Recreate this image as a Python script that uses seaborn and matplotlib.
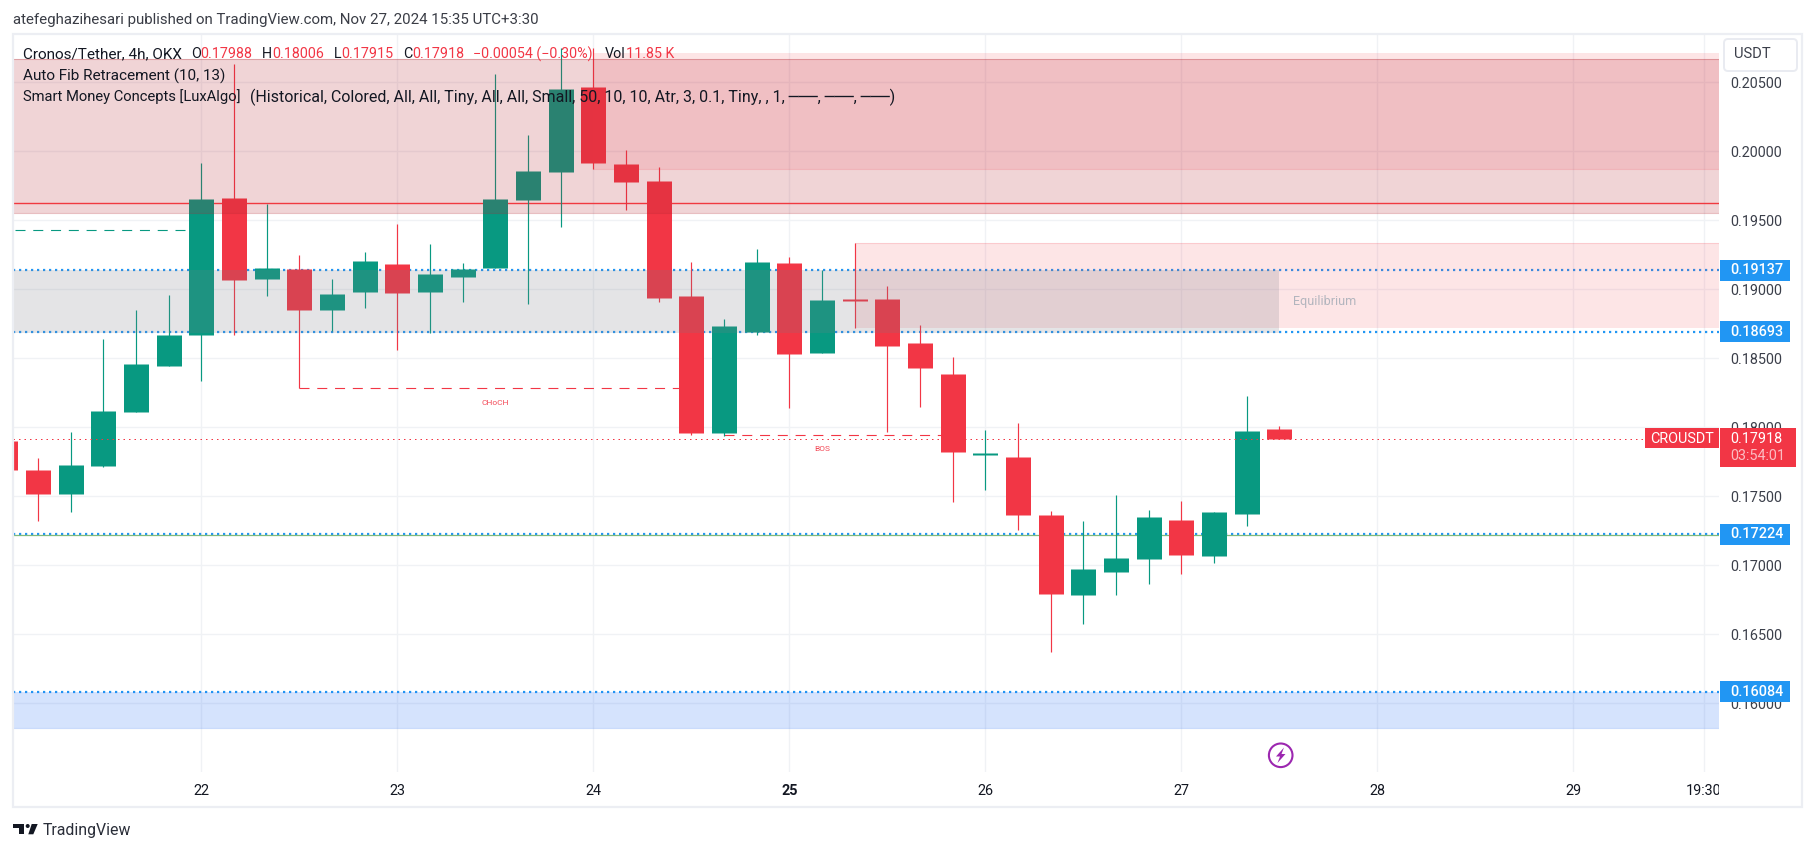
import matplotlib
matplotlib.use('Agg')
import matplotlib.pyplot as plt
import pandas as pd
import seaborn as sns
from matplotlib.patches import Circle, FancyBboxPatch, Polygon, Rectangle
from matplotlib.transforms import Affine2D, Bbox

# 4h candles
bar_open = [.17901, .17691, .17517, .17720, .18111, .18444, .18669, .19662, .19075, .19147,
            .18850, .18980, .19183, .18980, .19089, .19154, .19647, .19850, .20466, .19908,
            .19785, .18951, .17959, .18691, .19190, .18538, .18930, .18930, .18611, .18386,
            .17799, .17785, .17365, .16785, .16951, .17046, .17328, .17067, .17372, .17988]
bar_close = [.17691, .17517, .17727, .18118, .18459, .18669, .19654, .19067, .19154, .18850,
             .18966, .19205, .18973, .19111, .19147, .19654, .19857, .20451, .19915, .19777,
             .18937, .17959, .18734, .19198, .18531, .18922, .18915, .18589, .18430, .17821,
             .17814, .17365, .16792, .16973, .17053, .17350, .17075, .17386, .17973, .17918]
bar_high = [.17901, .17778, .17966, .18640, .18850, .18959, .19915, .20633, .19618, .19248,
            .19075, .19270, .19473, .19328, .19190, .20560, .20118, .20748, .20748, .20009,
            .19886, .19198, .18785, .19292, .19234, .19140, .19335, .19024, .18741, .18509,
            .17980, .18031, .17394, .17321, .17509, .17401, .17466, .17386, .18227, .18006]
bar_low = [.17691, .17321, .17386, .17712, .18111, .18444, .18335, .18669, .18951, .18285,
           .18698, .18864, .18560, .18683, .18908, .19154, .18893, .19451, .19872, .19575,
           .18908, .17944, .17937, .18669, .18140, .18538, .18720, .17966, .18147, .17459,
           .17546, .17256, .16372, .16575, .16785, .16865, .16937, .17017, .17285, .17915]

price_ticks = [.205, .200, .195, .190, .185, .180, .175, .170, .165, .160]
price_labels = ['0.20500', '0.20000', '0.19500', '0.19000', '0.18500',
                '0.18000', '0.17500', '0.17000', '0.16500', '0.16000']
date_ticks = [6, 12, 18, 24, 30, 36, 42, 48, 52]
date_labels = ['22', '23', '24', '25', '26', '27', '28', '29', '19:30']

fib_levels = [.19137, .18693, .17224, .16084]
fib_labels = ['0.19137', '0.18693', '0.17224', '0.16084']
last_price = .17918
sweep_level = .19627
pivot_green = .17217

title_text = 'atefeghazihesari published on TradingView.com, Nov 27, 2024 15:35 UTC+3:30'
smc_name = 'Smart Money Concepts [LuxAlgo]'
smc_args = ('(Historical, Colored, All, All, Tiny, All, All, Small, '
            '50, 10, 10, Atr, 3, 0.1, Tiny, , 1, ───, ───, ───)')

UP = '#089981'
DOWN = '#f23645'
BLUE = '#2196f3'
INK = '#131722'

sns.set_theme(style='whitegrid', rc={'grid.color': '#f0f2f5', 'grid.linewidth': 1.0,
                                     'axes.edgecolor': 'white'})
plt.rcParams['font.family'] = ['Roboto', 'DejaVu Sans']

fig = plt.figure(figsize=(18.14, 8.51), dpi=100)
ax = fig.add_axes([13 / 1814, 1 - 772 / 851, 1706 / 1814, 738 / 851])
px = Affine2D().scale(1, -1).translate(0, 851)  # figure text placed in image pixels

candles = pd.DataFrame({'bar': range(len(bar_open)), 'open': bar_open, 'close': bar_close,
                        'high': bar_high, 'low': bar_low})
candles['side'] = ['up' if c >= o else 'down' for o, c in zip(bar_open, bar_close)]
wicks = candles.melt(id_vars=['bar', 'side'], value_vars=['low', 'high'], value_name='price')
bodies = candles.melt(id_vars=['bar', 'side'], value_vars=['open', 'close'], value_name='price')
palette = {'up': UP, 'down': DOWN}

sns.lineplot(data=wicks, x='bar', y='price', hue='side', units='bar', estimator=None, sort=False,
             palette=palette, legend=False, linewidth=0.85, solid_capstyle='butt', zorder=2, ax=ax)
sns.lineplot(data=bodies, x='bar', y='price', hue='side', units='bar', estimator=None, sort=False,
             palette=palette, legend=False, linewidth=18, solid_capstyle='butt', zorder=2, ax=ax)

x0, x1 = 0.236, 52.46
ax.set_xlim(x0, x1)
ax.set_ylim(.15502, .2085)
ax.set_axisbelow(True)
ax.set(xlabel='', ylabel='')
for s in ax.spines.values():
    s.set_visible(False)

# zones sit over the candles
ax.fill_between([x0, x1], .19555, .20669, color='#b42832', alpha=.2, lw=0, zorder=3)
ax.fill_between([18, x1], .19874, .20710, color=DOWN, alpha=.13, lw=0, zorder=3)
ax.fill_between([26, x1], .18720, .19335, color=DOWN, alpha=.13, lw=0, zorder=3)
ax.fill_between([x0, 39], .18685, .19140, color='#787b86', alpha=.2, lw=0, zorder=3)
ax.fill_between([x0, x1], .15819, .16084, color='#2d73f5', alpha=.2, lw=0, zorder=3)
ax.hlines([.19555, .20669], x0, x1, color='#b42832', alpha=.3, lw=.8, zorder=3)
ax.hlines(.19874, 18, x1, color=DOWN, alpha=.2, lw=.8, zorder=3)
ax.hlines(.15819, x0, x1, color='#2d73f5', alpha=.25, lw=.8, zorder=3)
ax.hlines(.19335, 26, x1, color=DOWN, alpha=.15, lw=.8, zorder=3)

# lines behind the candles
for level in fib_levels:
    ax.hlines(level, x0, x1, color=BLUE, lw=1.6, linestyles=[(0, (1, 1.7))], zorder=1)
ax.hlines(pivot_green, x0, x1, color='#7fb97c', lw=.9, zorder=1)
ax.hlines(sweep_level, x0, x1, color='#ff3e44', lw=1.0, zorder=1)
ax.hlines(.18285, 9, 21, color=DOWN, lw=.8, linestyles=[(0, (9, 7))], zorder=1)
ax.hlines(.17942, 22, 29, color=DOWN, lw=.8, linestyles=[(0, (9, 7))], zorder=1)
ax.hlines(.19427, .3, 6, color=UP, lw=.8, linestyles=[(0, (9, 7))], zorder=1)
ax.hlines(last_price, x0, 50.16, color=DOWN, lw=.72, linestyles=[(0, (1.5, 4))], zorder=4)

ax.text(15, .18176, 'CHoCH', color=DOWN, alpha=.9, fontsize=6, ha='center', va='center', zorder=5)
ax.text(25, .17845, 'BOS', color=DOWN, alpha=.9, fontsize=6, ha='center', va='center', zorder=5)
ax.text(39.43, .18915, 'Equilibrium', color='#b2b5be', fontsize=9, ha='left', va='center', zorder=5)

ax.set_yticks(price_ticks, price_labels)
ax.yaxis.tick_right()
ax.tick_params(axis='y', length=0, pad=8, labelsize=10.4, labelcolor='#3b3f4a')
ax.set_xticks(date_ticks, date_labels)
ax.tick_params(axis='x', length=0, pad=8.4, labelsize=10.4, labelcolor=INK)
for lab in ax.get_xticklabels():
    if lab.get_text() == '25':
        lab.set_fontweight('bold')
    if lab.get_text() == '19:30':
        lab.set_clip_on(True)
        lab.set_clip_box(Bbox([[0, 0], [1719, 851]]))

# price labels on the right scale
ymark = ax.get_yaxis_transform()
for level, label in zip(fib_levels, fib_labels):
    ax.add_patch(Rectangle((1.0006, level - .00076), .0411, .00152, transform=ymark,
                           color=BLUE, lw=0, clip_on=False, zorder=10))
    ax.text(1.0065, level, label, transform=ymark, color='white', fontsize=10.4, fontweight='medium',
            va='center', ha='left', clip_on=False, zorder=11)
ax.add_patch(Rectangle((1.0006, last_price - .00206), .0445, .00286, transform=ymark,
                       color=DOWN, lw=0, clip_on=False, zorder=10))
ax.add_patch(Rectangle((.9566, last_price - .00070), .0434, .00147, transform=ymark,
                       color=DOWN, lw=0, clip_on=False, zorder=10))
ax.text(1.0065, last_price, '0.17918', transform=ymark, color='white', fontsize=10.4, va='center',
        clip_on=False, zorder=11)
ax.text(1.0065, last_price - .00128, '03:54:01', transform=ymark, color='#fbbcc2', fontsize=10.4,
        va='center', clip_on=False, zorder=11)
ax.text(.9783, last_price, 'CROUSDT', transform=ymark, color='white', fontsize=10.4, va='center',
        ha='center', clip_on=False, zorder=11)

# panel frame and USDT button
fig.add_artist(Rectangle((13, 34), 1789, 773, transform=px, fill=False, ec='#eceef3', lw=1.6))
fig.add_artist(FancyBboxPatch((1727, 42), 67, 26, boxstyle='round,pad=3,rounding_size=4', transform=px,
                              fc='white', ec='#e9ebf1', lw=1.4, zorder=8))
fig.text(1752, 54.5, 'USDT', transform=px, color='#3b3f4a', fontsize=10.6, ha='center', va='center', zorder=9)

fig.text(13, 20, title_text, transform=px, color='#3a3d46', fontsize=10.85, va='center')

# legend rows
row_y = 54
fig.text(23, row_y, 'Cronos/Tether, 4h, OKX', transform=px, color=INK, fontsize=11, va='center', zorder=7)
for x, s, c in [(191, 'O', INK), (200, '0.17988', DOWN), (262, 'H', INK), (272, '0.18006', DOWN),
                (334, 'L', INK), (341, '0.17915', DOWN), (403, 'C', INK), (412, '0.17918', DOWN),
                (473, '−0.00054 (−0.30%)', DOWN), (605, 'Vol', INK), (626, '11.85 K', DOWN)]:
    fig.text(x, row_y, s, transform=px, color=c, fontsize=10.3, va='center', zorder=7)
fig.text(23, 76, 'Auto Fib Retracement (10, 13)', transform=px, color=INK, fontsize=11, va='center', zorder=7)
fig.text(23, 97, smc_name, transform=px, color=INK, fontsize=10.66, va='center', zorder=7)
fig.text(250, 97, smc_args, transform=px, color=INK, fontsize=11.5, va='center', zorder=7)

# lightning badge
fig.add_artist(Circle((1280.7, 755.3), 11.8, transform=px, fill=False, ec='#9c27b0', lw=1.5))
fig.add_artist(Polygon([(1284, 747.5), (1276, 756.5), (1280, 756.5), (1277.5, 763), (1285.5, 754),
                        (1281.5, 754)], transform=px, fc='#9c27b0', lw=0))

# TradingView logo
fig.add_artist(Polygon([(13.3, 824), (24.3, 824), (24.3, 834.3), (19, 834.3), (19, 827.7), (13.3, 827.7)],
                       transform=px, fc=INK, lw=0))
fig.add_artist(Circle((27.7, 826), 2, transform=px, fc=INK, lw=0))
fig.add_artist(Polygon([(31.7, 824), (37.7, 824), (33.3, 834.3), (28.3, 834.3)], transform=px, fc=INK, lw=0))
fig.text(43, 830, 'TradingView', transform=px, color='#2a2e39', fontsize=11.4, va='center')

fig.savefig('out.png', dpi=100, facecolor='white')
